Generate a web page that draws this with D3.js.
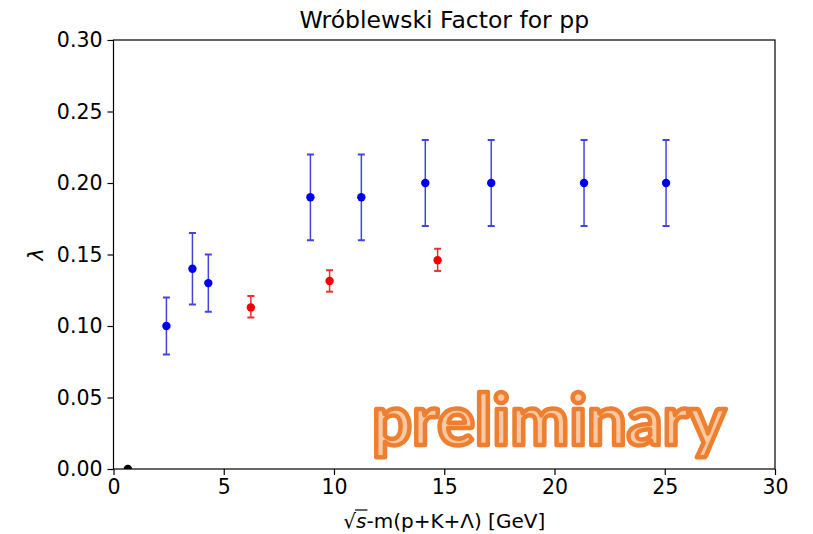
<!DOCTYPE html>
<html>
<head>
<meta charset="utf-8">
<script src="https://cdn.jsdelivr.net/npm/d3@7"></script>
<style>
  body { margin: 0; background: #fff; }
  svg { display: block; }
  text { font-family: "DejaVu Sans", sans-serif; }
</style>
</head>
<body>
<script>
// ---- data ----
const blueX    = [2.4, 3.58, 4.3, 8.93, 11.24, 14.14, 17.13, 21.34, 25.06];
const blueY    = [0.10, 0.14, 0.13, 0.19, 0.19, 0.20, 0.20, 0.20, 0.20];
const blueLo   = [0.08, 0.115, 0.11, 0.16, 0.16, 0.17, 0.17, 0.17, 0.17];
const blueHi   = [0.12, 0.165, 0.15, 0.22, 0.22, 0.23, 0.23, 0.23, 0.23];
const redX     = [6.23, 9.8, 14.7];
const redY     = [0.113, 0.1315, 0.146];
const redLo    = [0.106, 0.124, 0.1385];
const redHi    = [0.121, 0.139, 0.154];
const blackX   = [0.65];
const blackY   = [0.0];
const xTicks   = [0, 5, 10, 15, 20, 25, 30];
const yTicks   = [0.00, 0.05, 0.10, 0.15, 0.20, 0.25, 0.30];

const W = 813, H = 534;
const m = { left: 113.5, right: 775, top: 40, bottom: 469 };

const svg = d3.select("body").append("svg").attr("width", W).attr("height", H);

const x = d3.scaleLinear().domain([0, 30]).range([m.left, m.right]);
const y = d3.scaleLinear().domain([0, 0.30]).range([m.bottom, m.top]);

svg.append("defs").append("clipPath").attr("id", "clip")
  .append("rect").attr("x", m.left).attr("y", m.top)
  .attr("width", m.right - m.left).attr("height", m.bottom - m.top);

// axes
const fs = 20.5;
const xAxis = svg.append("g").attr("transform", `translate(0,${m.bottom})`)
  .call(d3.axisBottom(x).tickValues(xTicks).tickSizeOuter(0).tickSize(6).tickPadding(4).tickFormat(d3.format("d")));
const yAxis = svg.append("g").attr("transform", `translate(${m.left},0)`)
  .call(d3.axisLeft(y).tickValues(yTicks).tickSizeOuter(0).tickSize(6).tickPadding(5).tickFormat(d3.format(".2f")));
[xAxis, yAxis].forEach(a => {
  a.select(".domain").remove();
  a.selectAll("text").attr("font-size", fs).attr("fill", "#000").style("font-family", "DejaVu Sans");
  a.selectAll("line").attr("stroke", "#000").attr("stroke-width", 1.2);
});

// frame
svg.append("rect").attr("x", m.left).attr("y", m.top)
  .attr("width", m.right - m.left).attr("height", m.bottom - m.top)
  .attr("fill", "none").attr("stroke", "#000").attr("stroke-width", 1.2);

const plot = svg.append("g").attr("clip-path", "url(#clip)");

function errSeries(xs, ys, lo, hi, color, lineColor, capW, r) {
  const g = plot.append("g");
  xs.forEach((xv, i) => {
    g.append("line").attr("x1", x(xv)).attr("x2", x(xv))
      .attr("y1", y(lo[i])).attr("y2", y(hi[i]))
      .attr("stroke", lineColor).attr("stroke-width", 1.5);
    [lo[i], hi[i]].forEach(v => {
      g.append("line").attr("x1", x(xv) - capW).attr("x2", x(xv) + capW)
        .attr("y1", y(v)).attr("y2", y(v))
        .attr("stroke", lineColor).attr("stroke-width", 2);
    });
    g.append("circle").attr("cx", x(xv)).attr("cy", y(ys[i])).attr("r", r).attr("fill", color);
  });
}
errSeries(blueX, blueY, blueLo, blueHi, "#0000ee", "#4444dd", 3.5, 4.2);
errSeries(redX, redY, redLo, redHi, "#f00000", "#e83030", 3.5, 4.2);
plot.selectAll(".blk").data(blackX).enter().append("circle")
  .attr("cx", d => x(d)).attr("cy", (d, i) => y(blackY[i])).attr("r", 4.2).attr("fill", "#000");

// title
svg.append("text").attr("x", (m.left + m.right) / 2).attr("y", 28)
  .attr("text-anchor", "middle").attr("font-size", 23.5).attr("fill", "#000")
  .text("Wróblewski Factor for pp");

// y label
svg.append("text").attr("transform", `translate(43,${(m.top + m.bottom) / 2}) rotate(-90)`)
  .attr("text-anchor", "middle").attr("font-size", fs).attr("font-style", "italic")
  .text("λ");

// x label
const xl = svg.append("text").attr("x", (m.left + m.right) / 2).attr("y", 528)
  .attr("text-anchor", "middle").attr("font-size", 20);
xl.append("tspan").text("√");
xl.append("tspan").attr("font-style", "italic").text("s");
xl.append("tspan").text("-m(p+K+Λ) [GeV]");
const rootNode = xl.node();
const ext = rootNode.getExtentOfChar(0);
svg.append("line").attr("x1", rootNode.getEndPositionOfChar(0).x - 1).attr("x2", rootNode.getEndPositionOfChar(1).x + 1)
  .attr("y1", ext.y + 1).attr("y2", ext.y + 1).attr("stroke", "#000").attr("stroke-width", 1.2);

// preliminary watermark
svg.append("text").attr("x", 372).attr("y", 445)
  .attr("font-size", 70).attr("font-weight", "bold").style("font-family", "Lato, 'DejaVu Sans', sans-serif")
  .attr("textLength", 354).attr("lengthAdjust", "spacingAndGlyphs")
  .attr("fill", "#f9c9a4").attr("stroke", "#ef7f30").attr("stroke-width", 4.5)
  .attr("stroke-linejoin", "round")
  .text("preliminary");
</script>
</body>
</html>
